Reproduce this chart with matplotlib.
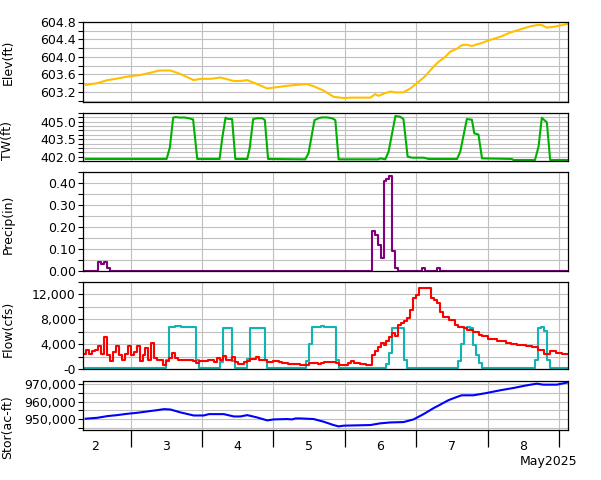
import matplotlib
matplotlib.use('Agg')
from matplotlib import pyplot as plt

# all times are hours counted from May 2 00:00
elev_hours = [8.9, 12.8, 16.2, 19.0, 22.9, 27.4, 30.7, 33.5, 37.4, 40.8, 45.2, 47.5, 50.9, 54.2, 58.7,
              60.9, 63.2, 66.5, 69.9, 73.2, 76.6, 81.1, 83.3, 85.5, 88.9, 92.2, 95.6, 97.8, 104.6, 106.2,
              107.3, 109.0, 111.3, 113.0, 115.7, 118.0, 120.2, 123.0, 125.3, 127.5, 129.7, 131.4, 133.7,
              135.3, 137.0, 138.7, 140.4, 142.1, 144.3, 148.2, 151.6, 154.9, 158.3, 160.5, 162.2, 163.9,
              166.1, 168.4, 171.1]
elev_ft = [603.36, 603.40, 603.47, 603.50, 603.55, 603.59, 603.64, 603.69, 603.69, 603.61, 603.47, 603.50,
           603.50, 603.53, 603.45, 603.45, 603.47, 603.38, 603.28, 603.31, 603.34, 603.37, 603.38, 603.33,
           603.23, 603.09, 603.06, 603.07, 603.07, 603.15, 603.11, 603.16, 603.21, 603.19, 603.19, 603.28,
           603.40, 603.56, 603.74, 603.89, 604.00, 604.12, 604.19, 604.27, 604.28, 604.25, 604.29, 604.32,
           604.38, 604.46, 604.56, 604.63, 604.70, 604.73, 604.73, 604.67, 604.69, 604.72, 604.76]

tw_hours = [8.9, 36.1, 37.2, 38.3, 39.1, 40.8, 41.9, 43.6, 45.0, 46.4, 53.9, 54.8, 55.9, 56.5, 58.1,
            59.2, 63.2, 64.0, 65.2, 66.5, 68.2, 69.1, 70.2, 82.7, 83.8, 85.8, 87.2, 88.3, 90.0, 91.7,
            92.8, 93.9, 107.3, 107.9, 109.6, 110.7, 113.0, 114.6, 115.7, 117.1, 118.6, 122.5, 124.1, 133.7,
            134.8, 137.0, 138.7, 139.5, 140.9, 142.1, 152.1, 152.7, 159.9, 161.1, 162.2, 163.9, 165.0, 171.1]
tw_ft = [401.8, 401.8, 402.8, 405.35, 405.4, 405.35, 405.37, 405.3, 405.2, 401.8, 401.8, 403.6, 405.35,
         405.25, 405.23, 401.8, 401.8, 402.7, 405.23, 405.3, 405.3, 405.15, 401.8, 401.77, 402.3, 405.14,
         405.3, 405.37, 405.37, 405.3, 405.14, 401.77, 401.77, 401.85, 401.77, 402.43, 405.49, 405.43,
         405.23, 402.0, 401.91, 401.91, 401.8, 401.8, 402.43, 405.23, 405.17, 404.0, 403.9, 401.85, 401.8,
         401.71, 401.71, 402.86, 405.34, 404.94, 401.71, 401.71]

precip_hours = [8, 13, 14, 15, 16, 17, 105, 106, 107, 108, 109, 110, 111, 112, 113, 114, 122, 123, 127, 128, 171]
precip_in = [0, 0.04, 0.033, 0.04, 0.015, 0, 0.18, 0.165, 0.12, 0.06, 0.41, 0.42, 0.43, 0.09, 0.015, 0,
             0.015, 0, 0.015, 0, 0]

inflow_hours = [8, 9, 10, 11, 12, 13, 14, 15, 16, 17, 18, 19, 20, 21, 22, 23, 24, 25, 26, 27, 28, 29, 30,
                31, 32, 33, 35, 36, 37, 38, 39, 40, 41, 45, 46, 47, 50, 52, 53, 54, 55, 56, 58, 59, 60, 62,
                63, 64, 66, 67, 70, 72, 74, 75, 77, 81, 83, 84, 87, 88, 89, 93, 94, 97, 98, 99, 101, 103,
                105, 106, 107, 108, 109, 110, 111, 112, 113, 114, 115, 116, 117, 118, 119, 120, 121, 122,
                124, 125, 126, 127, 128, 129, 131, 133, 134, 136, 137, 139, 141, 142, 144, 147, 150, 152,
                154, 157, 159, 161, 163, 165, 167, 169, 171]
inflow_cfs = [2450, 3100, 2450, 2830, 3100, 3630, 2450, 5120, 2290, 1330, 2720, 3730, 2290, 1440, 2450,
              3730, 2190, 2720, 3730, 1330, 2290, 3360, 1440, 4160, 1760, 1440, 690, 1330, 1760, 2500,
              1760, 1490, 1440, 1330, 960, 1330, 1490, 1120, 1760, 1490, 2030, 1490, 1870, 1120, 800,
              1120, 1330, 1650, 1870, 1490, 1120, 1230, 1120, 960, 800, 690, 580, 960, 800, 960, 1120,
              960, 690, 960, 1330, 960, 800, 690, 2290, 2830, 3470, 4160, 3890, 4430, 5070, 5760, 5330,
              7090, 7360, 7730, 8160, 9490, 11470, 11890, 12960, 13070, 12960, 11470, 11090, 10560, 9230,
              8430, 7890, 7090, 6830, 6560, 6290, 5920, 5490, 5230, 4850, 4530, 4160, 4000, 3790, 3630,
              3470, 3090, 2400, 2930, 2560, 2450, 2400]

outflow_hours = [8, 36, 37, 39, 41, 46, 47, 54, 55, 58, 59, 63, 64, 69, 70, 83, 84, 85, 88, 89, 93, 94,
                 110, 111, 112, 116, 117, 134, 135, 136, 137, 138, 139, 140, 141, 142, 160, 161, 162, 163,
                 164, 165, 171]
outflow_cfs = [160, 1490, 6830, 6990, 6830, 1490, 160, 1200, 6670, 1330, 160, 1650, 6670, 1490, 160, 1330,
               4000, 6720, 6930, 6720, 1490, 160, 800, 2560, 6670, 1490, 160, 1230, 4000, 6670, 6830, 6670,
               3890, 2290, 960, 160, 1490, 6560, 6720, 6130, 1490, 160, 160]

stor_hours = [8.9, 12.8, 16.2, 19.5, 22.9, 26.2, 29.6, 33.0, 35.2, 37.4, 40.8, 45.2, 48.6, 50.3, 55.3,
              58.7, 60.9, 63.2, 66.5, 69.9, 72.1, 76.6, 78.3, 79.4, 81.1, 85.5, 88.9, 92.2, 93.9, 95.6,
              104.6, 107.9, 111.3, 115.7, 119.1, 122.5, 125.8, 128.1, 130.8, 133.7, 135.3, 139.2, 143.7,
              148.2, 152.7, 157.2, 160.5, 162.7, 167.2, 169.4, 171.1]
stor_acft = [950400, 950900, 951850, 952400, 953150, 953700, 954450, 955200, 955740, 955550, 953900,
             952200, 952200, 952960, 952960, 951650, 951650, 952400, 951100, 949450, 950000, 950200,
             950000, 950550, 950550, 950200, 948700, 946850, 946100, 946500, 946850, 947800, 948300,
             948500, 950000, 953000, 956300, 958300, 960740, 962600, 963500, 963500, 964800, 966300,
             967600, 969100, 970000, 969450, 969450, 970200, 970750]

day_bounds = [24, 48, 72, 96, 120, 144, 168]
day_noons = [12, 36, 60, 84, 108, 132, 156]
day_labels = ['2', '3', '4', '5', '6', '7', '8']

elev_ticks = [603.2, 603.6, 604.0, 604.4, 604.8]
elev_labels = ['603.2', '603.6', '604.0', '604.4', '604.8']
elev_minor = [603.0, 603.4, 603.8, 604.2, 604.6]
tw_ticks = [402.0, 403.5, 405.0]
tw_labels = ['402.0', '403.5', '405.0']
tw_minor = [401.625, 402.375, 402.75, 403.125, 403.875, 404.25, 404.625, 405.375, 405.75]
precip_ticks = [0.0, 0.1, 0.2, 0.3, 0.4]
precip_labels = ['0.00', '0.10', '0.20', '0.30', '0.40']
precip_minor = [0.05, 0.15, 0.25, 0.35, 0.45]
flow_ticks = [0, 4000, 8000, 12000]
flow_labels = ['-0', '4,000', '8,000', '12,000']
flow_minor = [2000, 6000, 10000, 14000]
stor_ticks = [950000, 960000, 970000]
stor_labels = ['950,000', '960,000', '970,000']
stor_minor = [945000, 955000, 965000]

W, H = 601, 480
fig = plt.figure(figsize=(W / 100, H / 100), dpi=100)


def add_panel(top, bottom):
    return fig.add_axes([83 / W, 1 - bottom / H, (568 - 83) / W, (bottom - top) / H])


def style_panel(ax, ylim, ticks, labels, minor):
    ax.set_xlim(8, 171)
    ax.set_ylim(*ylim)
    ax.set_yticks(ticks)
    ax.set_yticklabels(labels)
    ax.set_yticks(minor, minor=True)
    ax.set_xticks(day_bounds)
    ax.set_xticklabels([])
    ax.set_axisbelow(True)
    ax.grid(True, which='both', axis='y', color='#c0c0c0', lw=0.8)
    ax.grid(True, which='major', axis='x', color='#c0c0c0', lw=0.8)
    ax.tick_params(axis='y', which='both', direction='out', length=3.6, width=0.8,
                   labelsize=9, pad=1.5, colors='black')
    ax.tick_params(axis='x', which='both', length=0)
    for s in ax.spines.values():
        s.set_linewidth(0.9)


ax1 = add_panel(22, 102)
ax1.plot(elev_hours, elev_ft, color='#ffc000', lw=1.5)
style_panel(ax1, (602.97, 604.8), elev_ticks, elev_labels, elev_minor)

ax2 = add_panel(113, 161)
ax2.plot(tw_hours, tw_ft, color='#00b000', lw=1.5)
style_panel(ax2, (401.625, 405.75), tw_ticks, tw_labels, tw_minor)

ax3 = add_panel(172, 271)
ax3.step(precip_hours, precip_in, where='post', color='#800080', lw=1.5)
style_panel(ax3, (0, 0.45), precip_ticks, precip_labels, precip_minor)

ax4 = add_panel(282, 369)
ax4.step(outflow_hours, outflow_cfs, where='post', color='#10b4b4', lw=1.5)
ax4.step(inflow_hours, inflow_cfs, where='post', color='#ff0000', lw=1.5)
style_panel(ax4, (0, 14000), flow_ticks, flow_labels, flow_minor)

ax5 = add_panel(381, 430)
ax5.plot(stor_hours, stor_acft, color='#0000ff', lw=1.5)
style_panel(ax5, (944070, 971500), stor_ticks, stor_labels, stor_minor)
ax5.tick_params(axis='x', which='major', direction='out', length=12.5, width=0.9)
ax5.set_xticks(day_noons, minor=True)
ax5.set_xticklabels(day_labels, minor=True)
ax5.tick_params(axis='x', which='minor', length=0, labelsize=9, pad=7)

ylabels = [('Elev(ft)', 62), ('TW(ft)', 140), ('Precip(in)', 224), ('Flow(cfs)', 329), ('Stor(ac-ft)', 427)]
for text, yc in ylabels:
    fig.text(8 / W, 1 - yc / H, text, rotation=90, ha='center', va='center', fontsize=9)

fig.text(577 / W, 1 - 461 / H, 'May2025', ha='right', va='center', fontsize=9)

fig.savefig('out.png', dpi=100)
